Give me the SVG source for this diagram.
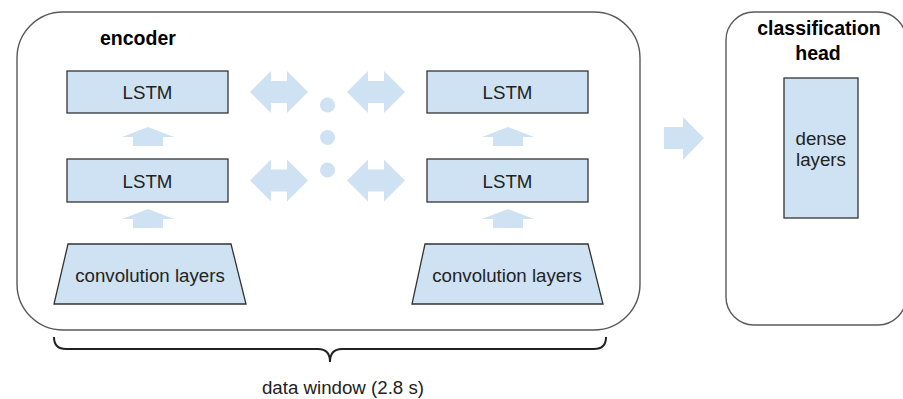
<svg xmlns="http://www.w3.org/2000/svg" width="903" height="399" viewBox="0 0 903 399">
  <style>
    .container { fill: #ffffff; stroke: #595959; stroke-width: 1.4; }
    .box { fill: #cfe2f3; stroke: #333333; stroke-width: 1.3; }
    .arrow { fill: #cfe2f3; stroke: none; }
    .label { font-family: "Liberation Sans", Arial, sans-serif; font-size: 18.7px; fill: #222222; text-anchor: middle; }
    .title { font-family: "Liberation Sans", Arial, sans-serif; font-size: 19.5px; font-weight: bold; fill: #000000; }
    .brace { fill: none; stroke: #222222; stroke-width: 2; }
  </style>
  <defs>
    <polygon id="dbl" points="0,0 21,-21 21,-11 37,-11 37,-21 58,0 37,21 37,11 21,11 21,21"/>
    <polygon id="up" points="0,-9 26,-19 52,-9 41,-9 41,0 11,0 11,-9"/>
  </defs>

  <g id="encoder">
    <rect class="container" x="17" y="12" width="623" height="318" rx="46" ry="46"/>
    <text class="title" x="100" y="45">encoder</text>
  </g>

  <g id="classification-head">
    <rect class="container" x="726" y="12" width="180" height="313" rx="28" ry="28"/>
    <text class="title" x="819" y="35" text-anchor="middle">classification</text>
    <text class="title" x="818" y="60" text-anchor="middle">head</text>
  </g>

  <g id="lstm-1-top">
    <rect class="box" x="67" y="71" width="161" height="42"/>
    <text class="label" x="147.5" y="99">LSTM</text>
  </g>
  <g id="lstm-1-bottom">
    <rect class="box" x="67" y="159" width="161" height="43"/>
    <text class="label" x="147.5" y="187.5">LSTM</text>
  </g>
  <g id="lstm-2-top">
    <rect class="box" x="427" y="71" width="161" height="42"/>
    <text class="label" x="507.5" y="99">LSTM</text>
  </g>
  <g id="lstm-2-bottom">
    <rect class="box" x="427" y="159" width="161" height="43"/>
    <text class="label" x="507.5" y="187.5">LSTM</text>
  </g>

  <g id="conv-1">
    <polygon class="box" points="68,244 231,244 246,304 54,304"/>
    <text class="label" x="150" y="282">convolution layers</text>
  </g>
  <g id="conv-2">
    <polygon class="box" points="425,244 588,244 603,304 412,304"/>
    <text class="label" x="507" y="282">convolution layers</text>
  </g>

  <g id="dense-layers">
    <rect class="box" x="784" y="78" width="74" height="140"/>
    <text class="label" x="821" y="145">dense</text>
    <text class="label" x="821" y="166">layers</text>
  </g>

  <g id="connectors">
    <use href="#up" class="arrow" transform="translate(122,146)"/>
    <use href="#up" class="arrow" transform="translate(122,228)"/>
    <use href="#up" class="arrow" transform="translate(482,146)"/>
    <use href="#up" class="arrow" transform="translate(482,228)"/>
    <use href="#dbl" class="arrow" transform="translate(250,92)"/>
    <use href="#dbl" class="arrow" transform="translate(347,92)"/>
    <use href="#dbl" class="arrow" transform="translate(250,180.5)"/>
    <use href="#dbl" class="arrow" transform="translate(347,180.5)"/>
    <circle class="arrow" cx="327.5" cy="105" r="7.5"/>
    <circle class="arrow" cx="327.5" cy="137.5" r="7.5"/>
    <circle class="arrow" cx="327.5" cy="170" r="7.5"/>
    <polygon class="arrow" points="664,127 683,127 683,117 704,138 683,160 683,149 664,149"/>
  </g>

  <g id="data-window">
    <path class="brace" d="M54,337 Q54,349 66,349 L318,349 Q330,349 330,362 Q330,349 342,349 L594,349 Q606,349 606,337"/>
    <text class="label" x="343" y="394">data window (2.8 s)</text>
  </g>
</svg>
